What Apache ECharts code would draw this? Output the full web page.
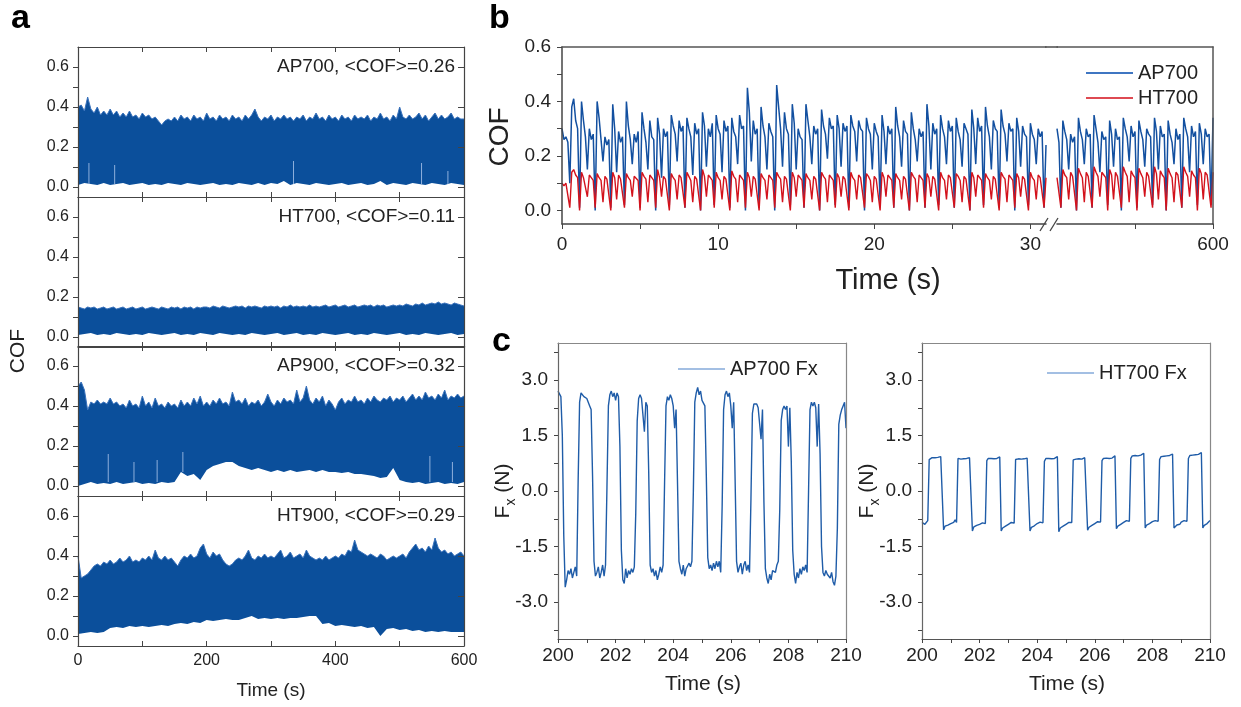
<!DOCTYPE html>
<html><head><meta charset="utf-8">
<script src="https://cdn.jsdelivr.net/npm/echarts@6.0.0/dist/echarts.min.js"></script>
<style>html,body{margin:0;padding:0;background:#fff}#c{width:1241px;height:707px}</style>
</head><body><div id="c"></div>
<script>
// ================= DATA =================
// ---- Panel a : COF band envelopes, 0-600 s (upper every 5 s, lower every 10 s) ----
const aUpperStep = 5, aLowerStep = 10;
const aXTicks = [0,100,200,300,400,500,600];
const aXLabels = [0,200,400,600];
const aYTicks = [0,0.1,0.2,0.3,0.4,0.5,0.6];
const aYLabels = [0,0.2,0.4,0.6];

const aUpperAP700 = [
.40,.41,.38,.45,.39,.37,.40,.36,.38,.36,
.39,.36,.38,.35,.37,.35,.38,.35,.36,.34,
.37,.35,.36,.34,.35,.33,.31,.33,.34,.33,
.35,.33,.36,.34,.35,.33,.36,.34,.35,.33,
.37,.34,.35,.33,.36,.34,.35,.33,.36,.34,
.35,.33,.36,.34,.36,.39,.35,.33,.35,.34,
.36,.33,.35,.34,.36,.34,.35,.33,.35,.34,
.36,.33,.35,.34,.37,.34,.35,.33,.36,.34,
.35,.33,.36,.34,.35,.33,.36,.34,.35,.34,
.36,.33,.35,.34,.37,.34,.35,.33,.36,.34,
.40,.35,.34,.36,.34,.35,.37,.34,.36,.33,
.35,.37,.34,.36,.34,.35,.37,.34,.35,.34,
.34];
const aLowerAP700 = [
.01,.02,.015,.01,.02,.01,.015,.02,.01,.015,
.02,.01,.015,.01,.02,.015,.01,.02,.015,.01,
.015,.02,.01,.015,.01,.02,.015,.01,.02,.01,
.02,.015,.03,.01,.02,.015,.01,.02,.015,.01,
.015,.02,.01,.015,.02,.01,.015,.03,.01,.02,
.015,.01,.02,.015,.01,.02,.015,.01,.02,.015,
.01];
const aSpikesAP700 = [[17,.015,.12],[57,.015,.11],[335,.015,.13],[534,.015,.12],[575,.015,.08]];

const aUpperHT700 = [
.15,.145,.14,.15,.145,.15,.14,.145,.15,.14,
.145,.15,.14,.145,.15,.14,.145,.15,.14,.145,
.15,.14,.145,.15,.145,.14,.15,.145,.14,.15,
.145,.15,.14,.15,.145,.15,.14,.15,.145,.15,
.15,.145,.155,.15,.145,.155,.15,.145,.15,.155,
.15,.155,.145,.155,.15,.155,.15,.145,.155,.15,
.155,.15,.155,.145,.155,.15,.16,.15,.155,.15,
.155,.15,.16,.15,.155,.15,.155,.16,.15,.155,
.16,.15,.155,.16,.15,.155,.16,.15,.155,.16,
.155,.16,.15,.16,.155,.16,.15,.155,.16,.155,
.16,.155,.165,.16,.155,.165,.16,.17,.16,.165,
.17,.165,.175,.165,.17,.165,.16,.17,.165,.16,
.155];
const aLowerHT700 = [
.01,.015,.02,.01,.015,.01,.02,.015,.01,.015,
.01,.02,.015,.01,.015,.02,.01,.015,.01,.02,
.015,.01,.02,.015,.01,.015,.01,.02,.015,.01,
.015,.02,.01,.015,.02,.01,.015,.01,.02,.015,
.01,.015,.02,.01,.015,.01,.02,.015,.01,.015,
.02,.01,.015,.01,.02,.015,.01,.015,.02,.01,
.015];
const aSpikesHT700 = [];

const aUpperAP900 = [
.50,.52,.48,.38,.42,.41,.43,.41,.42,.41,
.44,.41,.42,.40,.41,.39,.43,.40,.41,.39,
.45,.40,.42,.39,.44,.40,.41,.39,.42,.40,
.41,.39,.43,.40,.42,.40,.44,.41,.45,.40,
.42,.40,.43,.41,.44,.41,.42,.40,.47,.42,
.43,.41,.44,.40,.42,.41,.43,.40,.42,.46,
.42,.40,.43,.41,.44,.42,.43,.41,.48,.42,
.44,.50,.43,.41,.44,.42,.45,.40,.43,.41,
.38,.42,.44,.41,.43,.42,.45,.42,.43,.41,
.44,.42,.45,.43,.42,.44,.43,.45,.42,.44,
.43,.45,.42,.44,.46,.43,.45,.43,.47,.44,
.45,.43,.46,.44,.48,.43,.45,.44,.46,.44,
.45];
const aLowerAP900 = [
.00,.01,.02,.01,.015,.01,.02,.01,.015,.02,
.01,.015,.01,.02,.015,.02,.07,.05,.06,.03,
.08,.10,.11,.12,.12,.10,.09,.08,.09,.08,
.07,.08,.07,.08,.07,.075,.08,.07,.08,.07,
.07,.065,.07,.06,.06,.055,.05,.04,.045,.09,
.03,.02,.015,.02,.01,.015,.02,.01,.015,.01,
.02];
const aSpikesAP900 = [[47,.02,.16],[87,.02,.12],[123,.02,.13],[163,.07,.17],[547,.02,.15],[582,.02,.12]];

const aUpperHT900 = [
.40,.29,.30,.31,.33,.35,.36,.35,.37,.36,
.38,.36,.37,.39,.37,.38,.40,.37,.38,.37,
.39,.38,.40,.38,.43,.39,.38,.40,.38,.39,
.37,.35,.38,.40,.39,.41,.39,.40,.44,.46,
.41,.39,.42,.40,.41,.38,.36,.35,.36,.38,
.39,.38,.40,.43,.39,.38,.40,.39,.41,.39,
.40,.39,.41,.43,.39,.40,.42,.39,.40,.41,
.39,.43,.40,.39,.38,.39,.38,.40,.38,.39,
.40,.39,.41,.40,.43,.42,.48,.43,.42,.41,
.40,.41,.40,.39,.41,.40,.38,.39,.40,.39,
.40,.41,.39,.42,.44,.46,.43,.44,.42,.45,
.43,.49,.44,.42,.43,.41,.42,.40,.41,.42,
.40];
const aLowerHT900 = [
.01,.015,.02,.015,.02,.04,.045,.04,.05,.045,
.05,.045,.05,.055,.05,.06,.065,.06,.07,.065,
.08,.075,.08,.085,.08,.08,.09,.10,.085,.09,
.085,.09,.085,.09,.09,.095,.10,.10,.06,.065,
.05,.055,.05,.045,.05,.04,.045,.00,.035,.04,
.03,.035,.025,.03,.02,.025,.02,.025,.02,.02,
.02];
const aSpikesHT900 = [];

// ---- Panel b : COF vs time, sampled every 0.125 s ----
const bStep = 0.125;
const bLeftStart = 0, bRightStart = 590;
const bXTicksL = [0,5,10,15,20,25,30], bXLabelsL = [0,10,20,30];
const bXTicksR = [595,600], bXLabelsR = [600];
const bYTicks = [0,0.1,0.2,0.3,0.4,0.5,0.6], bYLabels = [0,0.2,0.4,0.6];

const bAP700Left = [
.30,.26,.27,.25,.10,.38,.41,.33,.30,
.01,.40,.33,.27,.15,.30,.26,.28,
.00,.40,.34,.26,.18,.27,.24,.26,
.01,.39,.30,.14,.29,.25,.27,
.02,.40,.31,.26,.17,.28,.25,.29,
.01,.36,.30,.25,.15,.33,.27,.26,
.00,.34,.28,.12,.30,.27,.29,
.02,.35,.31,.28,.18,.33,.29,.31,
.01,.34,.30,.27,.13,.32,.28,.30,
.00,.36,.31,.16,.30,.27,.32,
.02,.35,.30,.28,.14,.33,.29,.31,
.01,.34,.29,.27,.17,.35,.30,.31,
.00,.45,.36,.18,.33,.28,.30,
.01,.38,.31,.27,.15,.32,.29,.27,
.00,.46,.38,.30,.16,.36,.30,.28,
.02,.39,.32,.15,.30,.27,.26,
.01,.39,.33,.27,.17,.31,.28,.30,
.00,.37,.31,.28,.19,.34,.30,.31,
.02,.35,.30,.16,.32,.29,.31,
.01,.35,.31,.29,.18,.33,.30,.29,
.00,.34,.30,.28,.15,.32,.29,.27,
.02,.35,.29,.17,.31,.28,.30,
.01,.38,.31,.27,.16,.33,.29,.28,
.00,.36,.30,.26,.18,.30,.27,.29,
.01,.39,.31,.15,.32,.28,.30,
.02,.35,.30,.27,.17,.33,.29,.31,
.01,.34,.29,.26,.16,.32,.30,.28,
.00,.37,.30,.17,.34,.29,.31,
.02,.38,.31,.27,.15,.33,.30,.29,
.01,.37,.31,.28,.18,.32,.29,.30,
.00,.34,.29,.16,.31,.28,.27,
.02,.32,.28,.26,.17,.30,.27,.29,
.01,.24];
const bHT700Left = [
.10,.09,.10,.10,.01,.14,.15,.13,.12,
.00,.14,.12,.115,.05,.13,.12,.11,
.01,.135,.12,.11,.03,.125,.115,.11,
.00,.14,.12,.04,.13,.115,.11,
.01,.135,.12,.11,.05,.125,.12,.11,
.00,.14,.125,.115,.03,.13,.12,.11,
.01,.15,.12,.05,.125,.115,.11,
.00,.135,.12,.11,.04,.13,.12,.115,
.01,.14,.125,.11,.03,.125,.115,.11,
.00,.15,.125,.05,.13,.12,.11,
.01,.14,.12,.11,.04,.125,.115,.11,
.00,.145,.125,.115,.03,.13,.12,.11,
.01,.14,.12,.05,.125,.115,.11,
.00,.135,.12,.11,.04,.13,.12,.11,
.01,.14,.125,.115,.03,.125,.115,.11,
.00,.14,.12,.05,.13,.12,.11,
.01,.135,.12,.11,.04,.125,.115,.11,
.00,.14,.125,.115,.03,.13,.12,.11,
.01,.135,.12,.05,.125,.115,.11,
.00,.14,.12,.11,.04,.13,.12,.115,
.01,.135,.125,.11,.03,.125,.115,.11,
.00,.14,.12,.05,.13,.12,.11,
.01,.135,.12,.11,.04,.125,.115,.11,
.00,.14,.125,.115,.03,.13,.12,.11,
.01,.135,.12,.05,.125,.115,.11,
.00,.14,.12,.11,.04,.13,.12,.115,
.01,.135,.125,.11,.03,.125,.115,.11,
.00,.14,.12,.05,.13,.12,.11,
.01,.135,.12,.11,.04,.125,.115,.11,
.00,.14,.125,.115,.03,.13,.12,.11,
.01,.135,.12,.05,.125,.115,.11,
.00,.14,.12,.11,.04,.13,.12,.115,
.01,.12];
const bAP700Right = [
.30,.25,.01,.33,.29,.26,.15,.28,.25,.27,
.00,.34,.29,.26,.17,.30,.27,.28,
.01,.35,.30,.25,.14,.29,.26,.27,
.02,.33,.28,.16,.30,.26,.27,
.00,.34,.30,.27,.18,.31,.27,.29,
.01,.33,.29,.26,.16,.30,.28,.27,
.02,.34,.29,.15,.31,.27,.28,
.00,.33,.28,.25,.17,.30,.26,.28,
.01,.34,.30,.27,.14,.31,.27,.29,
.02,.32,.28,.17,.30,.27,.28,
.02,.34];
const bHT700Right = [
.12,.12,.01,.15,.13,.12,.04,.14,.125,.12,
.00,.155,.135,.12,.03,.14,.125,.12,
.01,.16,.14,.125,.05,.14,.13,.12,
.00,.15,.13,.04,.14,.125,.12,
.01,.16,.14,.125,.03,.145,.13,.12,
.00,.155,.135,.12,.05,.14,.125,.12,
.01,.16,.135,.04,.145,.13,.12,
.00,.155,.135,.12,.03,.14,.13,.125,
.01,.16,.14,.125,.05,.145,.13,.12,
.00,.155,.135,.04,.14,.13,.125,
.01,.14];

// ---- Panel c : Fx vs time, 200-210 s sampled every 0.05 s ----
const cStart = 200, cStep = 0.05;
const cXTicks = [200,201,202,203,204,205,206,207,208,209,210];
const cXLabels = [200,202,204,206,208,210];
const cYTicks = [-3.75,-3,-2.25,-1.5,-0.75,0,0.75,1.5,2.25,3,3.75];
const cYLabels = [-3,-1.5,0,1.5,3];
const cFxAP700 = [
2.70,2.65,2.55,1.50,-1.20,-2.60,-2.40,-2.15,-2.25,-2.10,-2.35,-2.20,-2.05,-2.30,0.30,2.40,2.65,2.70,2.55,2.60,
2.50,2.40,2.30,2.20,0.40,-1.90,-2.30,-2.20,-2.05,-2.35,-2.20,-2.00,-2.30,-2.00,0.10,2.30,2.60,2.70,2.55,2.65,
2.45,2.65,2.55,1.20,-1.60,-2.40,-2.50,-2.10,-2.35,-2.15,-2.25,-2.10,-2.20,-2.05,-0.60,1.90,2.50,2.60,2.50,2.55,
1.60,2.40,2.30,0.50,-2.00,-2.20,-2.10,-2.30,-2.15,-2.40,-2.25,-2.05,-2.20,-2.00,0.20,2.30,2.55,2.45,2.60,2.50,
2.30,1.70,2.20,0.20,-1.90,-2.10,-2.25,-2.00,-2.30,-2.10,-2.15,-1.95,-2.05,-1.90,0.00,2.40,2.65,2.80,2.60,2.70,
2.45,2.40,2.30,0.40,-1.80,-2.10,-2.00,-2.15,-1.95,-2.10,-1.90,-2.05,-1.90,-2.20,-0.40,2.20,2.60,2.70,2.55,2.65,
2.30,1.70,2.40,0.30,-1.90,-2.20,-2.05,-1.95,-2.25,-2.00,-1.90,-2.15,-2.00,-2.20,-0.20,2.10,2.35,2.30,2.35,2.25,
2.30,1.40,2.20,-0.30,-2.10,-2.35,-2.50,-2.25,-2.40,-2.15,-2.10,-2.20,-2.00,-1.90,-0.50,1.90,2.20,2.30,2.20,2.30,
1.20,2.25,0.80,-1.60,-2.25,-2.50,-2.20,-2.35,-2.10,-2.25,-2.05,-2.15,-2.00,-2.20,0.00,2.20,2.40,2.30,2.40,2.25,
1.20,2.35,1.00,-1.50,-2.20,-2.30,-2.15,-2.25,-2.20,-2.35,-2.20,-2.45,-2.55,-2.30,-1.00,1.80,2.05,2.20,2.30,2.40,
1.70];
const cFxHT700 = [
-0.85,-0.80,-0.90,-0.85,-0.80,0.85,0.88,0.90,0.87,0.90,0.88,0.91,0.90,0.93,0.95,-1.05,-0.95,-0.97,-0.92,-0.93,
-0.88,-0.90,-0.85,-0.78,-0.85,0.88,0.90,0.86,0.88,0.87,0.85,0.88,0.87,0.90,0.93,-1.08,-0.97,-0.99,-0.93,-0.95,
-0.90,-0.92,-0.86,-0.82,-0.88,0.82,0.88,0.86,0.88,0.85,0.87,0.86,0.88,0.87,0.92,-1.08,-1.00,-0.97,-0.95,-0.96,
-0.90,-0.93,-0.85,-0.80,-0.87,0.85,0.90,0.87,0.88,0.86,0.89,0.87,0.88,0.89,0.93,-1.08,-0.98,-1.00,-0.94,-0.96,
-0.88,-0.91,-0.84,-0.80,-0.86,0.80,0.88,0.86,0.88,0.86,0.87,0.86,0.88,0.87,0.93,-1.10,-1.00,-0.97,-0.95,-0.94,
-0.90,-0.92,-0.85,-0.80,-0.85,0.84,0.88,0.86,0.89,0.87,0.88,0.86,0.88,0.90,0.93,-1.06,-0.98,-0.97,-0.93,-0.95,
-0.88,-0.90,-0.83,-0.80,-0.84,0.82,0.88,0.87,0.89,0.87,0.88,0.87,0.89,0.90,0.95,-1.02,-0.95,-0.93,-0.90,-0.92,
-0.85,-0.88,-0.80,-0.75,-0.82,0.88,0.95,0.93,0.96,0.94,0.95,0.96,0.97,0.99,1.02,-1.00,-0.92,-0.94,-0.88,-0.90,
-0.83,-0.86,-0.80,-0.75,-0.82,0.85,0.93,0.95,0.94,0.96,0.95,0.94,0.96,0.97,1.00,-1.00,-0.95,-0.92,-0.88,-0.90,
-0.84,-0.86,-0.80,-0.76,-0.82,0.88,0.96,0.95,0.97,0.96,0.98,0.97,0.99,1.00,1.04,-1.00,-0.93,-0.95,-0.88,-0.85,
-0.80];

// ================= BUILD =================
const FONT = "'Liberation Sans', Arial, Helvetica, sans-serif";
const AX = '#444', TXT = '#222';
const BAND = '#0b4f9b', BAND_EDGE = '#3a72bc', SPIKE = '#8fb0dc';
const BLUE = '#1350a0', RED = '#d3121c', CBLUE = '#1f5ca8';

const grids = [], xAxes = [], yAxes = [], series = [], graphics = [];
const pairs = (start, step, vals) => vals.map((v, i) => [start + i * step, v]);
function line(c, w) { return { show: true, onZero: false, lineStyle: { color: c || AX, width: w || 1.2 } }; }
function lbl(size, margin, vals, fmt, show) {
  return { show: show !== false, customValues: vals, margin: margin, fontSize: size, fontFamily: FONT, color: TXT,
           formatter: fmt || (v => String(v)) };
}
function tick(vals, inside, len) { return { show: true, inside: inside, length: len, customValues: vals, lineStyle: { color: AX, width: 1 } }; }
const none = { show: false };
function addX(o) { xAxes.push(Object.assign({ type: 'value', z: 10, splitLine: none }, o)); return xAxes.length - 1; }
function addY(o) { yAxes.push(Object.assign({ type: 'value', z: 10, splitLine: none }, o)); return yAxes.length - 1; }

// ---- panel a ----
const aPanels = [
  { label: 'AP700, <COF>=0.26', up: aUpperAP700, lo: aLowerAP700, sp: aSpikesAP700 },
  { label: 'HT700, <COF>=0.11', up: aUpperHT700, lo: aLowerHT700, sp: aSpikesHT700 },
  { label: 'AP900, <COF>=0.32', up: aUpperAP900, lo: aLowerAP900, sp: aSpikesAP900 },
  { label: 'HT900, <COF>=0.29', up: aUpperHT900, lo: aLowerHT900, sp: aSpikesHT900 }
];
const aTop = [47, 197, 346, 496];
aPanels.forEach((p, k) => {
  grids.push({ left: 78, top: aTop[k], width: 386, height: 150 });
  const gi = grids.length - 1;
  const xi = addX({ gridIndex: gi, position: 'bottom', min: 0, max: 600, axisLine: line(),
    axisTick: tick(aXTicks, true, 5), axisLabel: lbl(16, 7, aXLabels, null, k === 3) });
  addX({ gridIndex: gi, position: 'top', min: 0, max: 600, axisLine: line(), axisTick: tick(aXTicks, true, 5), axisLabel: none });
  const yi = addY({ gridIndex: gi, position: 'left', min: -0.05, max: 0.7, axisLine: line(),
    axisTick: tick(aYTicks, false, 5), axisLabel: lbl(16, 9, aYLabels, v => v.toFixed(1)) });
  addY({ gridIndex: gi, position: 'right', min: -0.05, max: 0.7, axisLine: line(), axisTick: tick(aYLabels, true, 6), axisLabel: none });
  const up = pairs(0, aUpperStep, p.up), lo = pairs(0, aLowerStep, p.lo);
  series.push({
    type: 'custom', xAxisIndex: xi, yAxisIndex: yi, silent: true, clip: true, data: [[0, 0]],
    renderItem: function (params, api) {
      const pts = [];
      up.forEach(d => pts.push(api.coord(d)));
      for (let i = lo.length - 1; i >= 0; i--) pts.push(api.coord(lo[i]));
      return { type: 'polygon', shape: { points: pts }, style: { fill: BAND } };
    }
  });
  series.push({ type: 'line', xAxisIndex: xi, yAxisIndex: yi, data: up, showSymbol: false, silent: true,
    lineStyle: { color: BAND_EDGE, width: 1 }, z: 3 });
  if (p.sp.length) series.push({
    type: 'custom', xAxisIndex: xi, yAxisIndex: yi, silent: true, data: p.sp, z: 4,
    renderItem: function (params, api) {
      const a = api.coord([api.value(0), api.value(1)]), b = api.coord([api.value(0), api.value(2)]);
      return { type: 'line', shape: { x1: a[0], y1: a[1], x2: b[0], y2: b[1] }, style: { stroke: SPIKE, lineWidth: 1 } };
    }
  });
  graphics.push({ type: 'text', x: 455, y: aTop[k] + 20, z: 20,
    style: { text: p.label, font: '19px ' + FONT, fill: TXT, align: 'right', textAlign: 'right', verticalAlign: 'middle', textVerticalAlign: 'middle' } });
});

// ---- panel b (broken axis: two grids) ----
grids.push({ left: 562, top: 47, width: 484, height: 177 });
const gBL = grids.length - 1;
grids.push({ left: 1057, top: 47, width: 156, height: 177 });
const gBR = grids.length - 1;
const bx1 = addX({ gridIndex: gBL, position: 'bottom', min: 0, max: 31, axisLine: line(AX, 1.5),
  axisTick: tick(bXTicksL, false, 5), axisLabel: lbl(19, 11, bXLabelsL) });
addX({ gridIndex: gBL, position: 'top', min: 0, max: 31, axisLine: line('#555', 1.6), axisTick: none, axisLabel: none });
const by1 = addY({ gridIndex: gBL, position: 'left', min: -0.05, max: 0.6, axisLine: line(AX, 1.5),
  axisTick: tick(bYTicks, false, 5), axisLabel: lbl(19, 11, bYLabels, v => v.toFixed(1)) });
const bx2 = addX({ gridIndex: gBR, position: 'bottom', min: 590, max: 600, axisLine: line(AX, 1.5),
  axisTick: tick(bXTicksR, false, 5), axisLabel: lbl(19, 11, bXLabelsR) });
addX({ gridIndex: gBR, position: 'top', min: 590, max: 600, axisLine: line('#555', 1.6), axisTick: none, axisLabel: none });
const by2 = addY({ gridIndex: gBR, position: 'right', min: -0.05, max: 0.6, axisLine: line('#555', 1.5), axisTick: none, axisLabel: none });
const bLine = (name, xi, yi, start, vals, color, w) => ({ name, type: 'line', xAxisIndex: xi, yAxisIndex: yi,
  data: pairs(start, bStep, vals), showSymbol: false, silent: true, lineStyle: { color, width: w }, itemStyle: { color } });
series.push(bLine('AP700', bx1, by1, bLeftStart, bAP700Left, BLUE, 1.5));
series.push(bLine('AP700', bx2, by2, bRightStart, bAP700Right, BLUE, 1.5));
series.push(bLine('HT700', bx1, by1, bLeftStart, bHT700Left, RED, 1.4));
series.push(bLine('HT700', bx2, by2, bRightStart, bHT700Right, RED, 1.4));
graphics.push({ type: 'rect', z: 20, shape: { x: 1045, y: 46.2, width: 13, height: 1.6 }, style: { fill: '#555' } });
graphics.push({ type: 'line', z: 20, shape: { x1: 1040, y1: 231, x2: 1048, y2: 218 }, style: { stroke: AX, lineWidth: 1.3 } });
graphics.push({ type: 'line', z: 20, shape: { x1: 1050, y1: 231, x2: 1058, y2: 218 }, style: { stroke: AX, lineWidth: 1.3 } });

// ---- panel c ----
const cGrids = [
  { left: 558, name: 'AP700 Fx', vals: cFxAP700, legLeft: 673, legTop: 353 },
  { left: 922, name: 'HT700 Fx', vals: cFxHT700, legLeft: 1042, legTop: 357 }
];
const legends = [{
  data: [{ name: 'AP700', itemStyle: { color: '#3f76c2' } }, { name: 'HT700', itemStyle: { color: '#de4a52' } }],
  left: 1081, top: 57, orient: 'vertical', icon: 'rect', itemWidth: 47, itemHeight: 2,
  itemGap: 3, selectedMode: false, textStyle: { fontSize: 20, fontFamily: FONT, color: TXT, lineHeight: 22 }
}];
cGrids.forEach(c => {
  grids.push({ left: c.left, top: 343, width: 288, height: 296 });
  const gi = grids.length - 1;
  const xi = addX({ gridIndex: gi, position: 'bottom', min: 200, max: 210, axisLine: line('#555', 1.2),
    axisTick: tick(cXTicks, false, 4), axisLabel: lbl(19, 7, cXLabels) });
  addX({ gridIndex: gi, position: 'top', min: 200, max: 210, axisLine: line('#888', 1.2), axisTick: none, axisLabel: none });
  const yi = addY({ gridIndex: gi, position: 'left', min: -4, max: 4, axisLine: line('#666', 1.2),
    axisTick: tick(cYTicks, false, 4), axisLabel: lbl(19, 10, cYLabels, v => v.toFixed(1)) });
  addY({ gridIndex: gi, position: 'right', min: -4, max: 4, axisLine: line('#888', 1.2), axisTick: none, axisLabel: none });
  series.push({ name: c.name, type: 'line', xAxisIndex: xi, yAxisIndex: yi, data: pairs(cStart, cStep, c.vals),
    showSymbol: false, silent: true, lineStyle: { color: CBLUE, width: 1.4 }, itemStyle: { color: CBLUE } });
  legends.push({ data: [{ name: c.name, itemStyle: { color: '#a3bfe3' } }], left: c.legLeft, top: c.legTop, icon: 'rect',
    itemWidth: 47, itemHeight: 2, selectedMode: false, textStyle: { fontSize: 20, fontFamily: FONT, color: TXT, lineHeight: 22 } });
});

// ---- titles / panel letters ----
function txt(x, y, t, size, opts) {
  graphics.push(Object.assign({ type: 'text', x, y, z: 20,
    style: { text: t, font: (opts && opts.bold ? 'bold ' : '') + size + 'px ' + FONT, fill: opts && opts.bold ? '#000' : TXT,
      align: (opts && opts.align) || 'center', textAlign: (opts && opts.align) || 'center',
      verticalAlign: 'middle', textVerticalAlign: 'middle' } }, opts && opts.rot ? { rotation: Math.PI / 2 } : {}));
}
txt(11, 19, 'a', 34, { bold: true, align: 'left' });
txt(489, 19, 'b', 34, { bold: true, align: 'left' });
txt(492, 342, 'c', 34, { bold: true, align: 'left' });
txt(18, 351, 'COF', 21, { rot: true });
txt(271, 691, 'Time (s)', 19);
txt(500, 137, 'COF', 28, { rot: true });
txt(888, 281, 'Time (s)', 29);
txt(703, 684, 'Time (s)', 21);
txt(1067, 684, 'Time (s)', 21);
[503, 867].forEach(x => graphics.push({ type: 'text', x: x, y: 491, rotation: Math.PI / 2, z: 20,
  style: { text: '{a|F}{b|x}{a| (N)}', fill: TXT, align: 'center', textAlign: 'center', verticalAlign: 'middle', textVerticalAlign: 'middle',
    rich: { a: { fontSize: 21, fontFamily: FONT, lineHeight: 30, verticalAlign: 'middle', fill: TXT, color: TXT },
            b: { fontSize: 14, fontFamily: FONT, lineHeight: 30, verticalAlign: 'bottom', fill: TXT, color: TXT } } } }));

const chart = echarts.init(document.getElementById('c'), null, { renderer: 'canvas', width: 1241, height: 707 });
chart.setOption({
  animation: false, backgroundColor: '#fff', textStyle: { fontFamily: FONT },
  grid: grids, xAxis: xAxes, yAxis: yAxes, series: series, legend: legends, graphic: { elements: graphics }
});
</script></body></html>
